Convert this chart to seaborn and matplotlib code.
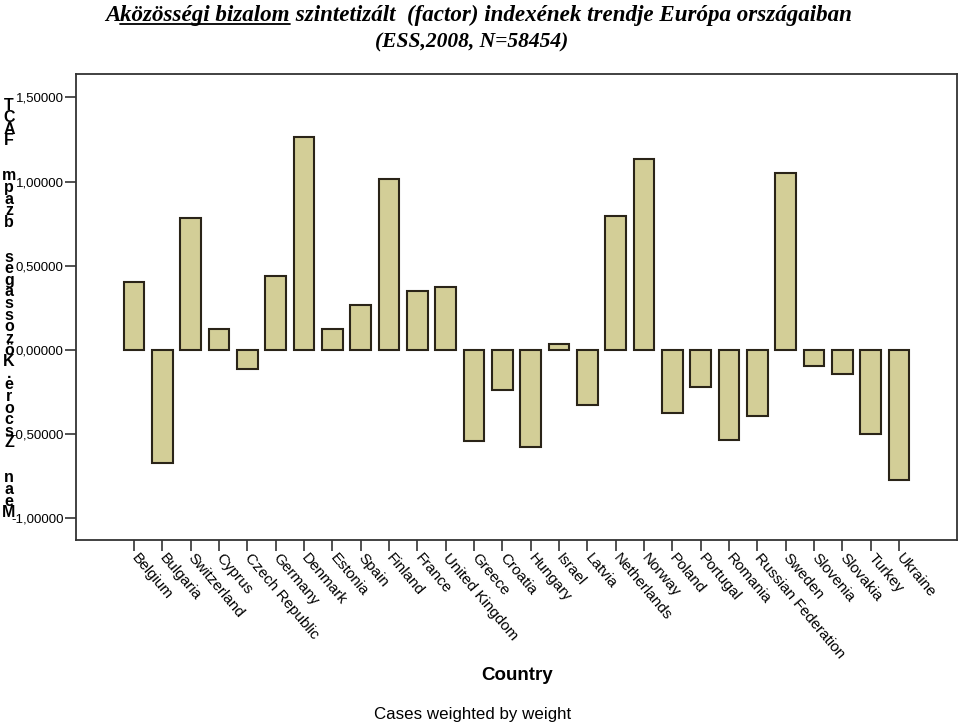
"""Community trust (factor) index by European country, ESS 2008 - SPSS style bar chart."""

import matplotlib

matplotlib.use("Agg")
import matplotlib.pyplot as plt
import seaborn as sns
from matplotlib.lines import Line2D

COUNTRIES = [
    "Belgium", "Bulgaria", "Switzerland", "Cyprus", "Czech Republic", "Germany",
    "Denmark", "Estonia", "Spain", "Finland", "France", "United Kingdom",
    "Greece", "Croatia", "Hungary", "Israel", "Latvia", "Netherlands", "Norway",
    "Poland", "Portugal", "Romania", "Russian Federation", "Sweden", "Slovenia",
    "Slovakia", "Turkey", "Ukraine",
]
MEAN_Z = [
    0.405, -0.671, 0.784, 0.125, -0.113, 0.439, 1.265, 0.125, 0.267, 1.015,
    0.348, 0.374, -0.540, -0.240, -0.574, 0.034, -0.325, 0.798, 1.132,
    -0.376, -0.218, -0.534, -0.392, 1.049, -0.093, -0.143, -0.499, -0.774,
]
Y_TICKS = [-1.0, -0.5, 0.0, 0.5, 1.0, 1.5]
Y_TICK_LABELS = ["-1,00000", "-0,50000", "0,00000", "0,50000", "1,00000", "1,50000"]

# y label glyphs as they appear stacked top-to-bottom in the original export
Y_LABEL_GLYPHS = list("TCAF mpazb segassozöK.erocsZ naeM")

TITLE_PARTS = ["A", "közösségi bizalom", " szintetizált  (factor) indexének trendje Európa országaiban"]
TITLE_LINE2 = "(ESS,2008, N=58454)"

BAR_COLOR = "#d3ce97"
EDGE_COLOR = "#2a2418"

W, H = 959, 727

sns.set_style("white")
plt.rcParams["font.family"] = ["Liberation Sans", "DejaVu Sans"]
plt.rcParams["text.color"] = "black"
plt.rcParams["xtick.color"] = "black"
plt.rcParams["ytick.color"] = "black"

fig = plt.figure(figsize=(W / 100, H / 100), dpi=100)
ax = fig.add_axes([76 / W, (H - 540) / H, (957 - 76) / W, (540 - 74) / H])

sns.barplot(
    x=COUNTRIES,
    y=MEAN_Z,
    color=BAR_COLOR,
    saturation=1,
    edgecolor=EDGE_COLOR,
    linewidth=1.5,
    width=0.73,
    ax=ax,
)

ax.set_xlim(-2.05, len(COUNTRIES) - 1 + 2.05)
ax.set_ylim(-1.128, 1.639)
ax.set_yticks(Y_TICKS)
ax.set_yticklabels(Y_TICK_LABELS, fontsize=9.5)
ax.set_xticks(range(len(COUNTRIES)))
ax.set_xticklabels(
    COUNTRIES, rotation=-50, ha="left", va="center", rotation_mode="anchor", fontsize=11
)
ax.tick_params(axis="y", direction="out", length=8, width=1.2, color="#333333", pad=1, left=True)
ax.tick_params(axis="x", direction="out", length=8, width=1.2, color="#333333", pad=3, bottom=True)
for side in ["left", "right", "top", "bottom"]:
    ax.spines[side].set_visible(True)
    ax.spines[side].set_color("#333333")
    ax.spines[side].set_linewidth(1.3)
ax.set_xlabel("")
ax.set_ylabel("")

# stacked upright y-axis label
step, space_gap = 11.6, 35.0
y_px = 106.0
for ch in Y_LABEL_GLYPHS:
    if ch == " ":
        y_px += space_gap - step
        continue
    fig.text(9 / W, 1 - y_px / H, ch, ha="center", va="center", fontsize=11.5, fontweight="bold")
    y_px += step

# title, with the underlined middle piece
title_kw = dict(family="Liberation Serif", fontweight="bold", style="italic", va="baseline")
renderer = fig.canvas.get_renderer()
x_px = 105.0
base_px = 21.0
for i, part in enumerate(TITLE_PARTS):
    t = fig.text(x_px / W, 1 - base_px / H, part, ha="left", fontsize=16.6, **title_kw)
    bb = t.get_window_extent(renderer=renderer)
    if i == 1:
        fig.add_artist(
            Line2D(
                [bb.x0 / W, bb.x1 / W],
                [1 - (base_px + 3) / H, 1 - (base_px + 3) / H],
                color="black",
                linewidth=1.3,
                transform=fig.transFigure,
            )
        )
    x_px = bb.x1
fig.text(472 / W, 1 - 47 / H, TITLE_LINE2, ha="center", fontsize=15.5, **title_kw)

fig.text(517 / W, 1 - 675 / H, "Country", ha="center", va="center", fontsize=13.5, fontweight="bold")
fig.text(473 / W, 1 - 715 / H, "Cases weighted by weight", ha="center", va="center", fontsize=12.2)

fig.savefig("out.png", dpi=100)
plt.close(fig)
